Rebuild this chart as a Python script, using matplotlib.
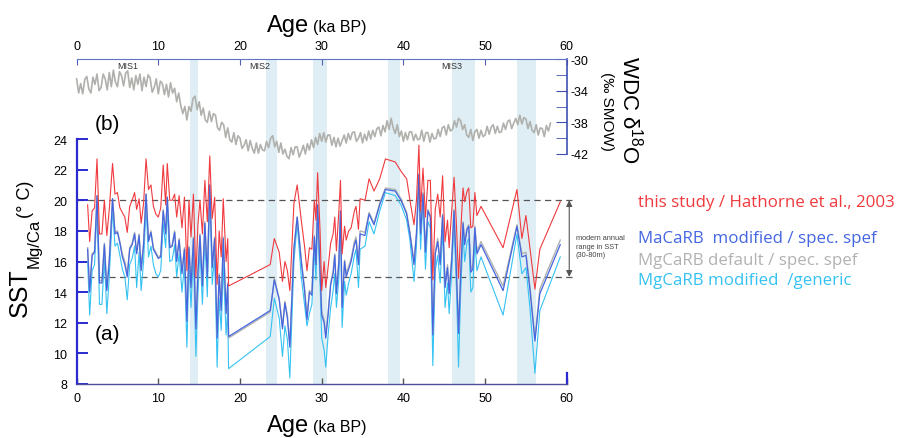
import matplotlib.pyplot as plt

plt.rcParams['font.family'] = ['Liberation Sans', 'DejaVu Sans']
plt.rcParams['mathtext.fontset'] = 'custom'
plt.rcParams['mathtext.rm'] = 'Liberation Sans'
plt.rcParams['axes.unicode_minus'] = False

# SST records (same sample ages for all four calibrations)
sst_age = [1.35, 1.6, 1.9, 2.2, 2.5, 2.8, 3.1, 3.4, 3.7, 4.0, 4.4, 4.7, 5.0, 5.3, 5.6, 5.9,
           6.2, 6.5, 6.8, 7.1, 7.35, 7.65, 7.9, 8.2, 8.5, 8.8, 9.1, 9.4, 9.7, 10.0, 10.3, 10.6,
           10.9, 11.1, 11.4, 11.7, 12.0, 12.25, 12.55, 12.9, 13.2, 13.5, 13.75, 14.0, 14.3, 14.6,
           14.85, 15.1, 15.4, 15.7, 16.0, 16.3, 16.6, 16.9, 17.2, 17.45, 17.7, 17.95, 18.3, 18.5,
           18.6, 23.7, 24.2, 24.8, 25.2, 25.5, 25.8, 26.1, 26.6, 27.0, 27.5, 27.9, 28.2, 28.5,
           28.8, 29.1, 29.3, 29.5, 29.8, 30.0, 30.3, 30.5, 30.8, 31.1, 31.4, 31.6, 31.8, 32.1,
           32.3, 32.5, 32.8, 33.0, 33.3, 33.6, 34.0, 34.2, 34.5, 34.7, 35.3, 35.8, 36.4, 37.1,
           37.8, 39.0, 39.7, 40.4, 40.8, 41.3, 41.6, 41.9, 42.1, 42.4, 42.7, 43.0, 43.3, 43.6,
           43.9, 44.2, 44.5, 44.8, 45.1, 45.4, 45.6, 45.9, 46.2, 46.5, 46.75, 47.0, 47.3, 47.5,
           47.8, 48.0, 48.25, 48.5, 48.75, 49.0, 49.5, 52.2, 53.9, 54.5, 55.0, 55.5, 56.1, 56.7,
           59.2]
sst_red = [19.7, 17.3, 19.3, 19.5, 22.7, 17.8, 17.8, 20.0, 17.7, 19.4, 22.4, 20.4, 20.5, 19.5, 19.2, 18.9,
           17.9, 19.6, 20.0, 20.5, 19.4, 20.1, 18.5, 19.8, 22.7, 20.7, 21.0, 19.6, 19.1, 18.9, 19.5, 22.3,
           19.7, 22.4, 20.0, 20.0, 20.4, 18.9, 20.3, 18.2, 20.2, 15.4, 20.0, 17.6, 20.4, 15.0,
           18.4, 20.0, 17.8, 21.3, 18.6, 22.9, 18.8, 20.2, 14.5, 18.0, 16.3, 20.1, 16.0, 17.5,
           14.4, 15.8, 17.5, 16.6, 14.7, 16.0, 15.4, 14.1, 19.8, 21.0, 18.7, 17.0, 15.4, 16.9,
           16.8, 20.0, 18.7, 21.8, 18.0, 14.1, 16.0, 14.3, 15.7, 17.2, 17.8, 18.9, 16.7, 19.3,
           21.3, 16.5, 18.3, 17.4, 18.0, 18.2, 19.3, 19.6, 18.1, 20.1, 20.0, 21.4, 20.6, 21.4,
           22.7, 22.5, 21.9, 21.4, 20.0, 18.4, 20.0, 23.6, 19.3, 22.1, 18.9, 21.3, 21.3, 14.8,
           19.4, 20.4, 18.9, 21.6, 17.3, 18.7, 16.9, 19.2, 21.5, 18.3, 14.9, 17.8, 20.8, 19.9,
           20.6, 20.8, 18.2, 18.3, 20.5, 19.0, 19.6, 16.9, 20.7, 17.5, 19.0, 16.8, 14.2, 16.8,
           19.9]
sst_blue = [16.8, 14.0, 16.4, 16.6, 20.3, 14.6, 14.6, 17.1, 14.1, 16.0, 20.1, 17.8, 17.9, 17.2, 16.3, 15.8,
            15.0, 16.8, 17.1, 17.8, 16.5, 17.7, 15.4, 17.1, 20.4, 17.3, 17.9, 16.8, 16.5, 16.2, 16.3, 19.3,
            17.8, 20.2, 16.9, 17.0, 17.9, 16.0, 17.4, 15.2, 16.8, 12.1, 16.9, 14.3, 17.5, 11.6,
            15.2, 17.7, 14.4, 18.5, 15.0, 21.0, 15.6, 17.5, 11.0, 15.1, 12.8, 17.5, 12.6, 14.5,
            11.1, 12.8, 14.8, 13.5, 11.6, 13.3, 12.3, 10.4, 16.8, 18.9, 16.0, 14.1, 12.2, 14.0,
            13.8, 17.6, 15.8, 19.7, 15.4, 12.5, 12.0, 11.0, 12.6, 14.5, 15.2, 16.4, 13.9, 15.9,
            19.3, 13.0, 16.0, 15.0, 15.5, 16.0, 17.1, 17.4, 15.8, 17.8, 17.7, 19.1, 18.4, 19.7,
            20.7, 20.6, 20.0, 19.1, 17.8, 15.8, 17.8, 21.7, 17.8, 20.4, 16.6, 19.3, 18.9, 11.2,
            16.5, 17.3, 15.8, 19.0, 14.3, 15.6, 13.9, 16.0, 19.3, 15.2, 11.3, 15.0, 18.5, 17.1,
            18.1, 18.3, 15.3, 15.5, 18.2, 16.5, 17.1, 14.1, 18.3, 16.3, 16.4, 14.1, 10.8, 13.9,
            17.1]
sst_gray = [16.9, 14.2, 16.5, 16.7, 20.3, 14.8, 14.7, 17.2, 14.3, 16.2, 20.1, 17.9, 18.0, 17.3, 16.5, 16.0,
            15.2, 16.9, 17.2, 17.9, 16.6, 17.8, 15.6, 17.2, 20.4, 17.4, 18.0, 16.9, 16.6, 16.3, 16.4, 19.4,
            17.9, 20.2, 17.0, 17.1, 18.0, 16.1, 17.5, 15.4, 16.9, 12.3, 17.0, 14.5, 17.6, 11.8,
            15.3, 17.8, 14.6, 18.6, 15.2, 21.0, 15.7, 17.6, 11.2, 15.2, 13.0, 17.6, 12.8, 14.6,
            11.0, 12.7, 14.9, 13.6, 11.8, 13.4, 12.5, 10.6, 16.9, 18.9, 16.1, 14.3, 12.4, 14.1,
            14.0, 17.7, 15.9, 19.7, 15.5, 12.7, 12.2, 11.2, 12.8, 14.6, 15.4, 16.5, 14.1, 16.1,
            19.3, 13.2, 16.1, 15.2, 15.7, 16.2, 17.3, 17.6, 16.0, 18.0, 17.9, 19.2, 18.5, 19.8,
            20.8, 20.7, 20.1, 19.2, 17.9, 16.0, 17.9, 21.7, 17.9, 20.5, 16.8, 19.4, 19.0, 11.4,
            16.6, 17.5, 16.0, 19.1, 14.5, 15.8, 14.1, 16.2, 19.4, 15.4, 11.5, 15.2, 18.6, 17.3,
            18.2, 18.4, 15.5, 15.7, 18.3, 16.7, 17.3, 14.4, 18.4, 16.5, 16.6, 14.3, 11.0, 14.2,
            17.4]
sst_cyan = [16.0, 12.5, 15.4, 15.8, 19.5, 13.2, 13.2, 16.2, 12.6, 15.0, 19.4, 17.0, 17.2, 16.4, 15.5, 15.0,
            13.5, 15.8, 16.2, 17.0, 14.3, 16.6, 14.1, 16.0, 19.6, 16.3, 17.0, 15.8, 15.2, 15.0, 15.4, 18.5,
            16.9, 19.5, 16.0, 16.1, 17.1, 15.0, 16.5, 14.0, 15.8, 10.4, 15.9, 13.0, 16.6, 9.8,
            13.8, 16.8, 13.2, 17.6, 13.7, 20.5, 14.5, 16.5, 9.1, 13.6, 11.5, 15.8, 11.2, 13.0,
            9.0, 11.1, 13.6, 12.3, 9.8, 11.8, 10.9, 8.4, 16.0, 18.5, 15.0, 13.2, 11.8, 12.6,
            13.2, 16.8, 14.8, 19.0, 14.6, 11.0, 10.2, 9.1, 11.3, 13.0, 14.1, 15.2, 13.0, 14.9,
            18.9, 11.7, 14.7, 13.8, 14.6, 15.2, 16.4, 16.8, 14.3, 16.8, 17.0, 18.6, 17.8, 19.3,
            20.5, 20.3, 19.7, 18.7, 17.4, 14.7, 17.0, 21.2, 16.8, 19.9, 15.5, 18.6, 18.2, 9.2,
            15.4, 16.4, 14.6, 18.2, 13.0, 14.6, 12.6, 15.1, 18.6, 14.1, 9.1, 13.8, 17.8, 16.0,
            17.3, 17.5, 14.0, 14.3, 17.4, 15.4, 16.3, 12.5, 17.8, 15.2, 15.6, 12.9, 8.7, 12.8,
            16.3]

# WDC d18O ice core record, read every 0.25 ka
wdc_age = [0.0, 0.25, 0.5, 0.75, 1.0, 1.25, 1.5, 1.75, 2.0, 2.25, 2.5, 2.75, 3.0, 3.25, 3.5, 3.75,
           4.0, 4.25, 4.5, 4.75, 5.0, 5.25, 5.5, 5.75, 6.0, 6.25, 6.5, 6.75, 7.0, 7.25, 7.5, 7.75,
           8.0, 8.25, 8.5, 8.75, 9.0, 9.25, 9.5, 9.75, 10.0, 10.25, 10.5, 10.75, 11.0, 11.25, 11.5, 11.75,
           12.0, 12.25, 12.5, 12.75, 13.0, 13.25, 13.5, 13.75, 14.0, 14.25, 14.5, 14.75, 15.0, 15.25, 15.5, 15.75,
           16.0, 16.25, 16.5, 16.75, 17.0, 17.25, 17.5, 17.75, 18.0, 18.25, 18.5, 18.75, 19.0, 19.25, 19.5, 19.75,
           20.0, 20.25, 20.5, 20.75, 21.0, 21.25, 21.5, 21.75, 22.0, 22.25, 22.5, 22.75, 23.0, 23.25, 23.5, 23.75,
           24.0, 24.25, 24.5, 24.75, 25.0, 25.25, 25.5, 25.75, 26.0, 26.25, 26.5, 26.75, 27.0, 27.25, 27.5, 27.75,
           28.0, 28.25, 28.5, 28.75, 29.0, 29.25, 29.5, 29.75, 30.0, 30.25, 30.5, 30.75, 31.0, 31.25, 31.5, 31.75,
           32.0, 32.25, 32.5, 32.75, 33.0, 33.25, 33.5, 33.75, 34.0, 34.25, 34.5, 34.75, 35.0, 35.25, 35.5, 35.75,
           36.0, 36.25, 36.5, 36.75, 37.0, 37.25, 37.5, 37.75, 38.0, 38.25, 38.5, 38.75, 39.0, 39.25, 39.5, 39.75,
           40.0, 40.25, 40.5, 40.75, 41.0, 41.25, 41.5, 41.75, 42.0, 42.25, 42.5, 42.75, 43.0, 43.25, 43.5, 43.75,
           44.0, 44.25, 44.5, 44.75, 45.0, 45.25, 45.5, 45.75, 46.0, 46.25, 46.5, 46.75, 47.0, 47.25, 47.5, 47.75,
           48.0, 48.25, 48.5, 48.75, 49.0, 49.25, 49.5, 49.75, 50.0, 50.25, 50.5, 50.75, 51.0, 51.25, 51.5, 51.75,
           52.0, 52.25, 52.5, 52.75, 53.0, 53.25, 53.5, 53.75, 54.0, 54.25, 54.5, 54.75, 55.0, 55.25, 55.5, 55.75,
           56.0, 56.25, 56.5, 56.75, 57.0, 57.25, 57.5, 57.75, 58.0]
wdc_d18o = [-32.5, -34.3, -33.1, -34.4, -32.6, -32.2, -33.8, -34.3, -32.3, -33.2, -31.9, -34.0, -33.6, -31.9, -32.5, -33.9,
            -31.7, -33.5, -31.4, -32.9, -33.5, -31.6, -32.1, -33.4, -31.8, -31.5, -33.6, -32.4, -33.9, -32.1, -33.2, -31.9,
            -34.0, -32.3, -33.5, -32.0, -32.4, -34.2, -33.6, -32.5, -34.4, -32.8, -33.1, -34.5, -33.2, -34.8, -33.0, -34.3,
            -33.7, -35.4, -34.3, -35.9, -36.9, -36.0, -37.7, -36.0, -36.6, -35.0, -34.7, -36.4, -35.4, -37.1, -36.2, -37.7,
            -38.0, -36.6, -37.9, -36.9, -37.1, -38.7, -39.0, -38.0, -38.3, -39.9, -38.7, -40.2, -40.5, -39.3, -40.8, -39.7,
            -40.0, -41.3, -40.9, -40.2, -41.6, -40.3, -41.3, -41.9, -40.6, -41.9, -40.8, -41.5, -41.6, -40.4, -41.2, -40.0,
            -39.7, -41.1, -40.4, -41.8, -40.6, -42.0, -41.4, -42.3, -42.6, -41.2, -42.1, -41.1, -41.1, -42.4, -41.7, -40.9,
            -42.0, -40.7, -41.5, -40.2, -41.2, -39.9, -40.8, -39.4, -40.4, -39.3, -40.5, -39.6, -39.6, -40.9, -39.9, -41.1,
            -40.0, -41.0, -40.3, -39.6, -40.6, -39.4, -40.2, -39.3, -39.2, -40.4, -40.0, -39.3, -40.6, -39.5, -40.3, -39.1,
            -40.1, -39.0, -39.8, -38.8, -38.6, -39.7, -38.4, -39.2, -37.8, -38.9, -37.5, -38.7, -39.4, -38.3, -39.8, -39.1,
            -40.4, -39.3, -40.2, -39.2, -39.2, -40.3, -39.5, -40.2, -40.1, -39.0, -40.4, -39.3, -39.3, -40.5, -39.4, -40.1,
            -40.0, -38.9, -39.8, -38.7, -38.5, -39.6, -38.3, -39.1, -38.9, -37.8, -38.6, -37.5, -37.8, -38.9, -38.3, -39.6,
            -39.9, -38.9, -40.3, -39.2, -38.9, -40.0, -39.0, -39.8, -39.6, -38.5, -39.5, -38.6, -38.3, -39.4, -38.5, -39.3,
            -39.2, -38.1, -38.9, -37.9, -37.7, -38.8, -38.1, -37.5, -38.3, -37.1, -38.2, -37.4, -37.6, -38.8, -37.9, -39.0,
            -39.3, -38.3, -39.6, -38.7, -38.8, -39.8, -38.4, -39.1, -38.1]

# shaded intervals (ka)
band_start = [13.9, 23.2, 28.9, 38.1, 46.0, 53.9]
band_end = [14.8, 24.5, 30.6, 39.6, 48.8, 56.2]

mis_labels = ['MIS1', 'MIS2', 'MIS3']
mis_age = [6.2, 22.4, 45.9]

legend_labels = ['this study / Hathorne et al., 2003', 'MaCaRB  modified / spec. spef',
                 'MgCaRB default / spec. spef', 'MgCaRB modified  /generic']

RED = '#f03a3e'
BLUE = '#4466e0'
GRAY = '#b2b2b2'
CYAN = '#35c2f2'
AXBLUE = '#2a2ad0'
W, H = 898, 439


def box(l, t, r, b):
    return [l / W, 1 - b / H, (r - l) / W, (b - t) / H]


fig = plt.figure(figsize=(8.98, 4.39), dpi=100)
ax = fig.add_axes(box(76.6, 140, 566.8, 385))
ax2 = fig.add_axes(box(76.6, 60, 566.8, 155))
ax2.patch.set_alpha(0)

# shaded bands across both panels
for a, b in zip(band_start, band_end):
    ax.axvspan(a, b, ymin=0, ymax=(385 - 60) / 245, color='#dfeef4', lw=0, zorder=0, clip_on=False)

ax.plot([0, 60.8], [20, 20], ls=(0, (5, 3.5)), color='#555555', lw=0.9, clip_on=False, zorder=1)
ax.plot([0, 60.8], [15, 15], ls=(0, (5, 3.5)), color='#555555', lw=0.9, clip_on=False, zorder=1)
ax.annotate('', xy=(60.3, 20), xytext=(60.3, 15), annotation_clip=False,
            arrowprops=dict(arrowstyle='<|-|>', color='#555555', lw=0.8, mutation_scale=9,
                            shrinkA=0, shrinkB=0))
ax.text(61.1, 17.0, 'modern annual\nrange in SST\n(30-80m)', fontsize=5.3, color='#444444',
        va='center', ha='left', linespacing=1.25, clip_on=False)

ax.plot(sst_age, sst_cyan, color=CYAN, lw=0.8, zorder=2)
ax.plot(sst_age, sst_gray, color=GRAY, lw=1.0, zorder=3)
ax.plot(sst_age, sst_blue, color=BLUE, lw=0.9, zorder=4)
ax.plot(sst_age, sst_red, color=RED, lw=0.8, zorder=5)

ax.set_xlim(0, 60)
ax.set_ylim(8, 24)
ax.set_xticks(range(0, 61, 10))
ax.set_yticks(range(8, 25, 2))
for s in ['top', 'right']:
    ax.spines[s].set_visible(False)
ax.spines['left'].set_color(AXBLUE)
ax.spines['left'].set_linewidth(1.6)
ax.spines['bottom'].set_color('#50509a')
ax.spines['bottom'].set_linewidth(1.0)
ax.tick_params(axis='y', direction='in', length=8, width=1.4, color=AXBLUE, labelsize=9, pad=7)
ax.tick_params(axis='x', direction='in', length=4, width=1.0, color='#555555', labelsize=9, pad=6)
ax.plot([60, 60], [8, 8.7], color=AXBLUE, lw=1.6, clip_on=False)

# WDC panel
ax2.plot(wdc_age, wdc_d18o, color='#b0b0ac', lw=1.2, clip_on=False)
ax2.set_xlim(0, 60)
ax2.set_ylim(-42, -30)
for s in ['left', 'bottom']:
    ax2.spines[s].set_visible(False)
ax2.spines['top'].set_color('#6272c4')
ax2.spines['right'].set_color('#4050b0')
ax2.spines['right'].set_linewidth(1.2)
ax2.xaxis.tick_top()
ax2.yaxis.tick_right()
ax2.set_xticks(range(0, 61, 10))
ax2.set_yticks([-30, -34, -38, -42])
ax2.set_yticks([-32, -36, -40], minor=True)
ax2.tick_params(axis='x', direction='in', length=4, color='#5060b8', labelsize=9, pad=5)
ax2.tick_params(axis='y', which='both', direction='in', length=8, color='#4050b0', labelsize=9, pad=3)
for lab, a in zip(mis_labels, mis_age):
    ax2.text(a, -30.85, lab, fontsize=6.5, color='#333333', ha='center', va='center')

# axis titles
for yb in [32, 432]:
    fig.text(309 / W, 1 - yb / H, 'Age', fontsize=17, ha='right', va='baseline')
    fig.text(313 / W, 1 - yb / H, '(ka BP)', fontsize=11.5, ha='left', va='baseline')
fig.text(20 / W, 1 - 293 / H, 'SST', fontsize=18, rotation=90, ha='center', va='center')
fig.text(34 / W, 1 - 243 / H, 'Mg/Ca', fontsize=12, rotation=90, ha='center', va='center')
fig.text(25 / W, 1 - 199 / H, '(° C)', fontsize=13, rotation=90, ha='center', va='center')
fig.text(630 / W, 1 - 110 / H, r'WDC δ$^{18}$O', fontsize=16, rotation=270, ha='center', va='center')
fig.text(607 / W, 1 - 111 / H, '(‰ SMOW)', fontsize=11, rotation=270, ha='center', va='center')

fig.text(107 / W, 1 - 125 / H, '(b)', fontsize=15, ha='center', va='center')
fig.text(108 / W, 1 - 335 / H, '(a)', fontsize=15, ha='center', va='center')

for lab, col, yb in zip(legend_labels, [RED, BLUE, GRAY, CYAN], [207, 243, 265, 285]):
    fig.text(638 / W, 1 - yb / H, lab, color=col, fontsize=12.2, family=['Open Sans', 'DejaVu Sans'],
             ha='left', va='baseline')

fig.savefig('out.png', dpi=100)
